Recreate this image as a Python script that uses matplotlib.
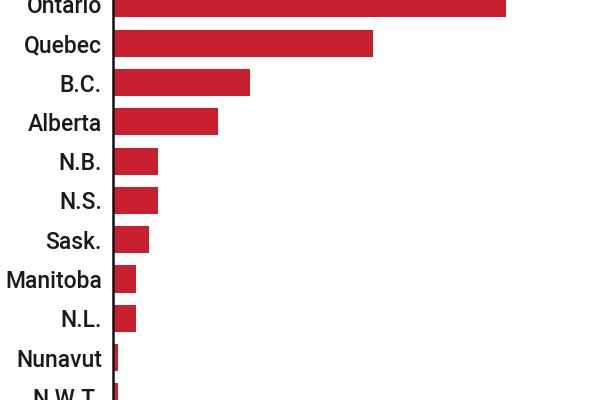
import matplotlib
matplotlib.use("Agg")
import matplotlib.pyplot as plt

# provinces top to bottom, bar lengths (arbitrary units)
provinces = ["Ontario", "Quebec", "B.C.", "Alberta", "N.B.", "N.S.",
             "Sask.", "Manitoba", "N.L.", "Nunavut", "N.W.T."]
values = [393, 260, 137, 105, 45, 45, 36, 23, 23, 5, 5]

bar_color = "#c8202f"

fig = plt.figure(figsize=(6, 4), dpi=100)
ax = fig.add_axes([113 / 600, 0, 1 - 113 / 600, 1])

pos = list(range(len(provinces)))
ax.barh(pos, values, height=0.69, color=bar_color)

ax.set_xlim(0, 487)
ax.set_ylim(10.08, -0.10)

ax.set_yticks(pos)
ax.set_yticklabels(provinces, fontsize=16.5, family="Roboto", fontweight="medium",
                   color="#1a1a1a")
ax.tick_params(axis="y", length=0, pad=8)
ax.set_xticks([])

for s in ["top", "right", "bottom"]:
    ax.spines[s].set_visible(False)
ax.spines["left"].set_linewidth(1.8)
ax.spines["left"].set_color("#111111")

fig.savefig("out.png", dpi=100)
